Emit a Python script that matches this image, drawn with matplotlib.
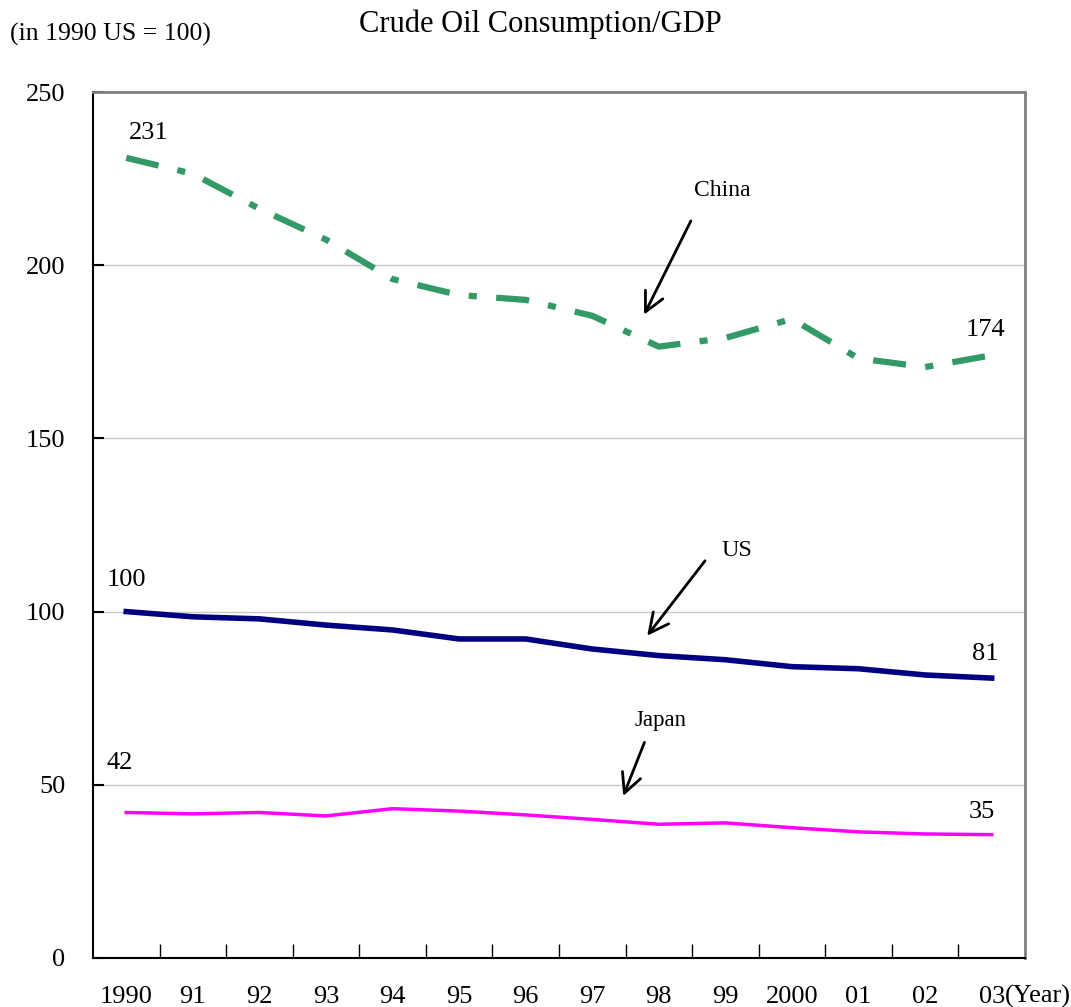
import matplotlib.pyplot as plt
import numpy as np

plt.rcParams['font.family'] = ['Liberation Serif', 'DejaVu Serif']

# Datos (índice, 1990 US = 100)
anos = ['1990', '91', '92', '93', '94', '95', '96', '97', '98', '99', '2000', '01', '02', '03']
china = [231, 226.4, 216.3, 207.4, 196, 191.4, 190, 185.4, 176.5, 179, 184.5, 173.1, 170.6, 174]
us = [100, 98.5, 97.9, 96.1, 94.7, 92.1, 92.1, 89.2, 87.3, 86.1, 84.1, 83.5, 81.7, 80.8]
japan = [42, 41.6, 42.0, 41.0, 43.1, 42.4, 41.3, 40.0, 38.6, 39.0, 37.6, 36.4, 35.8, 35.6]

fig = plt.figure(figsize=(10.71, 10.07), dpi=100)
ax = fig.add_axes([0.0868, 0.0487, 0.8702, 0.8599])

x = np.arange(len(anos))

ax.plot(x, china, color='#339966', linewidth=4.5, dashes=(5.3, 3.1, 1.3, 3.1))
ax.plot(x, us, color='#000080', linewidth=4)
ax.plot(x, japan, color='#FF00FF', linewidth=2.5)

ax.set_xlim(-0.5, len(anos) - 0.5)
ax.set_ylim(0, 250)
ax.set_yticks(np.arange(0, 251, 50))
ax.yaxis.grid(True, color='#c8c8c8', linewidth=1)
ax.set_axisbelow(True)

# Ticks del eje x entre categorías, etiquetas en el centro
ax.set_xticks(np.arange(0.5, len(anos) - 0.5, 1))
ax.set_xticklabels([])
ax.set_xticks(x, minor=True)
ax.set_xticklabels(anos, minor=True, fontsize=19)
ax.tick_params(axis='x', which='major', direction='in', length=10, width=1)
ax.tick_params(axis='x', which='minor', length=0, pad=20)
ax.tick_params(axis='y', direction='in', length=8, width=1.5, labelsize=19, pad=20)

for lado in ['left', 'bottom']:
    ax.spines[lado].set_color('black')
    ax.spines[lado].set_linewidth(1.5)
for lado in ['top', 'right']:
    ax.spines[lado].set_color('#808080')
    ax.spines[lado].set_linewidth(2)

# Valores extremos
ax.text(0.33, 235, '231', fontsize=19, ha='center', va='bottom')
ax.text(12.9, 178, '174', fontsize=19, ha='center', va='bottom')
ax.text(0.0, 106, '100', fontsize=19, ha='center', va='bottom')
ax.text(12.9, 84.5, '81', fontsize=19, ha='center', va='bottom')
ax.text(-0.1, 53, '42', fontsize=19, ha='center', va='bottom')
ax.text(12.85, 39, '35', fontsize=19, ha='center', va='bottom')

ax.text(13.2, -11.0, '(Year)', fontsize=19, ha='left', va='center', clip_on=False)

# Flechas
flecha = dict(arrowstyle='->', color='black', lw=2, mutation_scale=35)
ax.annotate('', xy=(7.76, 185), xytext=(8.5, 213.5), arrowprops=flecha)
ax.text(8.95, 221.5, 'China', fontsize=17, ha='center', va='center')
ax.annotate('', xy=(7.8, 92.4), xytext=(8.72, 115.3), arrowprops=flecha)
ax.text(9.18, 117.5, 'US', fontsize=17.5, ha='center', va='center')
ax.annotate('', xy=(7.45, 46), xytext=(7.8, 63), arrowprops=flecha)
ax.text(8.03, 68.5, 'Japan', fontsize=16.5, ha='center', va='center')

fig.text(0.505, 0.976, 'Crude Oil Consumption/GDP', fontsize=22, ha='center', va='center')
fig.text(0.009, 0.966, '(in 1990 US = 100)', fontsize=18.5, ha='left', va='center')

plt.savefig('out.png', dpi=100)
